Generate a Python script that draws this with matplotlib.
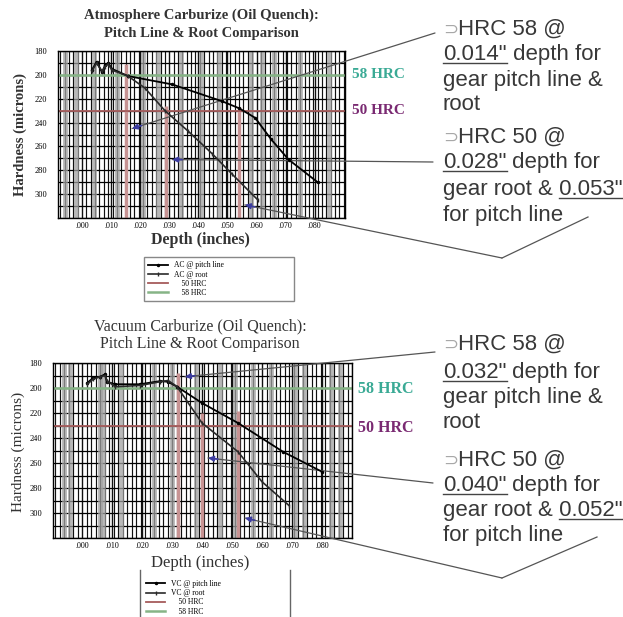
import numpy as np
import matplotlib
matplotlib.use("Agg")
import matplotlib.pyplot as plt
import matplotlib.ticker as ticker
from matplotlib.lines import Line2D

ac_pitch_x = [0.0034, 0.005, 0.0069, 0.0079, 0.009, 0.0103, 0.0158, 0.031, 0.048, 0.054, 0.0595, 0.065, 0.071, 0.081]
ac_pitch_h = [196, 189, 198, 192, 190, 195, 201, 208, 222, 228, 236, 254, 271, 290]
ac_root_x = [0.0034, 0.005, 0.0069, 0.0079, 0.009, 0.0103, 0.0158, 0.0216, 0.0285, 0.0364, 0.0447, 0.0515, 0.0605]
ac_root_h = [197, 190, 197, 193, 191, 196, 201, 211, 230, 247, 266, 283, 305]

vc_pitch_x = [0.0017, 0.0037, 0.006, 0.0077, 0.0083, 0.011, 0.0193, 0.026, 0.0287, 0.0317, 0.040, 0.052, 0.067, 0.080]
vc_pitch_h = [196, 192, 191, 189, 195, 197, 197, 194.5, 195, 199, 212, 228, 251, 267]
vc_root_x = [0.0017, 0.0037, 0.006, 0.0077, 0.0083, 0.011, 0.0193, 0.026, 0.0287, 0.0317, 0.040, 0.052, 0.060, 0.069]
vc_root_h = [197, 193, 191, 190, 194, 199, 198, 195, 194, 199, 228, 251, 275, 294]

hrc58 = 200
hrc50 = 230

# Lotlinien (rot) bei den Schnittpunkten
ac_drop_x = [0.015, 0.029, 0.054]
ac_drop_top = [191, 226, 227]
vc_drop_x = [0.032, 0.040, 0.052]
vc_drop_top = [188, 220, 218]

# graue Streifen im Raster
ac_band_x = [-0.006, -0.002, 0.004, 0.012, 0.021, 0.026, 0.034, 0.041, 0.047, 0.058, 0.062, 0.066, 0.075, 0.085]
vc_band_x = [-0.006, -0.004, 0.006, 0.007, 0.013, 0.024, 0.030, 0.038, 0.046, 0.051, 0.057, 0.063, 0.071, 0.074, 0.083, 0.086]

xtick_vals = [0.0, 0.01, 0.02, 0.03, 0.04, 0.05, 0.06, 0.07, 0.08]
xtick_labels = ['.000', '.010', '.020', '.030', '.040', '.050', '.060', '.070', '.080']
ytick_vals = [180, 200, 220, 240, 260, 280, 300]

# Pfeilziele
ac_arrow_x = [0.0172, 0.031, 0.056]
ac_arrow_h = [245, 271, 309]
vc_arrow_x = [0.0343, 0.042, 0.0543]
vc_arrow_h = [191, 256, 304]

top_notes = [
    [('\u2283', 'b'), ('HRC 58 @', '')],
    [('0.014"', 'u'), (' depth for', '')],
    [('gear pitch line &', '')],
    [('root', '')],
    [('\u2283', 'b'), ('HRC 50 @', '')],
    [('0.028"', 'u'), (' depth for', '')],
    [('gear root &', ''), (' 0.053"', 'u')],
    [('for pitch line', '')],
]
bottom_notes = [
    [('\u2283', 'b'), ('HRC 58 @', '')],
    [('0.032"', 'u'), (' depth for', '')],
    [('gear pitch line &', '')],
    [('root', '')],
    [('\u2283', 'b'), ('HRC 50 @', '')],
    [('0.040"', 'u'), (' depth for', '')],
    [('gear root &', ''), (' 0.052"', 'u')],
    [('for pitch line', '')],
]
top_note_y = [27, 52, 78, 102, 135, 160, 187, 213]
bottom_note_y = [342, 370, 395, 420, 458, 483, 508, 533]

W, H = 623, 617
SERIF = 'Liberation Serif'
SANS = ['Liberation Sans', 'DejaVu Sans']

fig = plt.figure(figsize=(W / 100, H / 100), dpi=100)
renderer = fig.canvas.get_renderer()


def fx(x):
    return x / W


def fy(y):
    return 1 - y / H


def chart(box, xlim, pitch, root, drops, bands):
    l, t, r, b = box
    ax = fig.add_axes([fx(l), fy(b), (r - l) / W, (b - t) / H])
    ax.set_xlim(xlim)
    ax.set_ylim(320, 180)
    ax.set_xticks(xtick_vals, xtick_labels)
    ax.set_yticks(ytick_vals)
    ax.xaxis.set_minor_locator(ticker.MultipleLocator(0.0015))
    ax.yaxis.set_minor_locator(ticker.MultipleLocator(10))
    ax.grid(True, which='both', axis='y', color='black', lw=0.9)
    ax.grid(True, which='minor', axis='x', color='#111111', lw=0.85)
    ax.grid(True, which='major', axis='x', color='#111111', lw=1.0)
    ax.set_axisbelow(True)
    ax.tick_params(which='both', length=0)
    ax.tick_params(axis='x', labelsize=5.8, pad=3)
    ax.tick_params(axis='y', labelsize=6, pad=8)
    for lab in ax.get_xticklabels() + ax.get_yticklabels():
        lab.set_family(SERIF)
    for s in ax.spines.values():
        s.set_linewidth(1.0)
    for bx in bands:
        ax.axvline(bx, color='#a0a0a0', lw=3.5, alpha=0.75, zorder=0.8)
    ax.vlines(drops[0], drops[1], 320, color='#c79393', lw=2.5, zorder=2)
    l58 = ax.axhline(hrc58, color='#86b486', lw=1.8, zorder=2.2)
    l50 = ax.axhline(hrc50, color='#a65c5c', lw=1.3, zorder=2.2)
    lp, = ax.plot(pitch[0], pitch[1], color='black', lw=1.3, marker='.', ms=3, zorder=4)
    lr, = ax.plot(root[0], root[1], color='#2a2a2a', lw=1.2, marker='|', ms=3, zorder=4)
    return ax, [lp, lr, l50, l58]


def pointer(ax, target, path):
    pts = [(fx(x), fy(y)) for x, y in path]
    if len(pts) > 1:
        fig.add_artist(Line2D([p[0] for p in pts], [p[1] for p in pts], color='#555555', lw=0.9))
    ax.annotate('', xy=target, xycoords='data', xytext=pts[-1], textcoords='figure fraction',
                arrowprops=dict(arrowstyle='-', color='#555555', lw=0.9, shrinkA=0, shrinkB=0),
                annotation_clip=False)
    tx, ty = ax.transData.transform(target)
    sx, sy = fig.transFigure.transform(pts[-1])
    d = np.hypot(sx - tx, sy - ty)
    hx, hy = tx + 10 * (sx - tx) / d, ty + 10 * (sy - ty) / d
    ax.annotate('', xy=target, xycoords='data', xytext=(hx, hy), textcoords='figure pixels',
                arrowprops=dict(arrowstyle='-|>', color='#3c3ca0', lw=1.2, mutation_scale=8,
                                shrinkA=0, shrinkB=0),
                annotation_clip=False)


def note_block(x_px, ys, lines):
    inv = fig.transFigure.inverted()
    for yc, segs in zip(ys, lines):
        base = fy(yc + 8)
        x = fx(x_px)
        for text, kind in segs:
            kw = dict(family=SANS, size=16, color='#383838', va='baseline', ha='left')
            if kind == 'b':
                kw.update(size=13, color='#a8a8a8')
            t = fig.text(x, base, text, **kw)
            bb = t.get_window_extent(renderer)
            x0 = inv.transform((bb.x0, bb.y0))[0]
            x1 = inv.transform((bb.x1, bb.y1))[0]
            if kind == 'u':
                start = x0
                if text.startswith(' '):
                    start = x0 + 6 / W
                fig.add_artist(Line2D([start, x1], [base - 3 / H, base - 3 / H], color='#444444', lw=1.0))
            x = x1


# ---------- oben: Atmosphere ----------
ax1, h1 = chart((58, 51, 345, 218), (-0.00825, 0.0904),
                (ac_pitch_x, ac_pitch_h), (ac_root_x, ac_root_h),
                (ac_drop_x, ac_drop_top), ac_band_x)
fig.text(fx(201), fy(15), 'Atmosphere Carburize (Oil Quench):', ha='center', va='center',
         family=SERIF, weight='bold', size=10.5, color='#333333')
fig.text(fx(201), fy(33), 'Pitch Line & Root Comparison', ha='center', va='center',
         family=SERIF, weight='bold', size=10.5, color='#333333')
fig.text(fx(20), fy(135), 'Hardness (microns)', rotation=90, ha='center', va='center',
         family=SERIF, weight='bold', size=10.5, color='#333333')
fig.text(fx(200), fy(240), 'Depth (inches)', ha='center', va='center',
         family=SERIF, weight='bold', size=11.5, color='#333333')
fig.text(fx(352), fy(75), '58 HRC', ha='left', va='center', family=SERIF, weight='bold',
         size=11, color='#3aaa95')
fig.text(fx(352), fy(110), '50 HRC', ha='left', va='center', family=SERIF, weight='bold',
         size=11, color='#7a2a72')
ax1.legend(h1, ['AC @ pitch line', 'AC @ root', '    50 HRC', '    58 HRC'],
           loc='upper left', bbox_to_anchor=(fx(140), fy(297), 158 / W, 44 / H),
           bbox_transform=fig.transFigure, mode='expand',
           prop=dict(family=SERIF, size=5.5), handlelength=2.5, labelspacing=0.15,
           borderpad=0.6, fancybox=False, edgecolor='#888888', framealpha=1)

pointer(ax1, (ac_arrow_x[0], ac_arrow_h[0]), [(435, 33)])
pointer(ax1, (ac_arrow_x[1], ac_arrow_h[1]), [(433, 162)])
pointer(ax1, (ac_arrow_x[2], ac_arrow_h[2]), [(588, 217), (502, 258)])

# ---------- unten: Vacuum ----------
ax2, h2 = chart((53, 363, 352, 538), (-0.00967, 0.090),
                (vc_pitch_x, vc_pitch_h), (vc_root_x, vc_root_h),
                (vc_drop_x, vc_drop_top), vc_band_x)
fig.text(fx(200), fy(326), 'Vacuum Carburize (Oil Quench):', ha='center', va='center',
         family=SERIF, size=11.5, color='#333333')
fig.text(fx(200), fy(344), 'Pitch Line & Root Comparison', ha='center', va='center',
         family=SERIF, size=11.5, color='#333333')
fig.text(fx(18), fy(452), 'Hardness (microns)', rotation=90, ha='center', va='center',
         family=SERIF, size=11, color='#333333')
fig.text(fx(200), fy(563), 'Depth (inches)', ha='center', va='center',
         family=SERIF, size=12, color='#333333')
fig.text(fx(358), fy(389), '58 HRC', ha='left', va='center', family=SERIF, weight='bold',
         size=11.5, color='#3aaa95')
fig.text(fx(358), fy(428), '50 HRC', ha='left', va='center', family=SERIF, weight='bold',
         size=11.5, color='#7a2a72')
ax2.legend(h2, ['VC @ pitch line', 'VC @ root', '    50 HRC', '    58 HRC'],
           loc='upper left', bbox_to_anchor=(fx(140), fy(618), 150 / W, 44 / H),
           bbox_transform=fig.transFigure, mode='expand',
           prop=dict(family=SERIF, size=5.5), handlelength=2.5, labelspacing=0.15,
           borderpad=0.3, frameon=False)
for xv in (140, 290):
    fig.add_artist(Line2D([fx(xv), fx(xv)], [fy(570), fy(617)], color='#666666', lw=1.0))

pointer(ax2, (vc_arrow_x[0], vc_arrow_h[0]), [(435, 352)])
pointer(ax2, (vc_arrow_x[1], vc_arrow_h[1]), [(433, 483)])
pointer(ax2, (vc_arrow_x[2], vc_arrow_h[2]), [(597, 537), (502, 578)])

# ---------- Textbloecke rechts ----------
note_block(443, top_note_y, top_notes)
note_block(443, bottom_note_y, bottom_notes)

fig.savefig('out.png', dpi=100)
